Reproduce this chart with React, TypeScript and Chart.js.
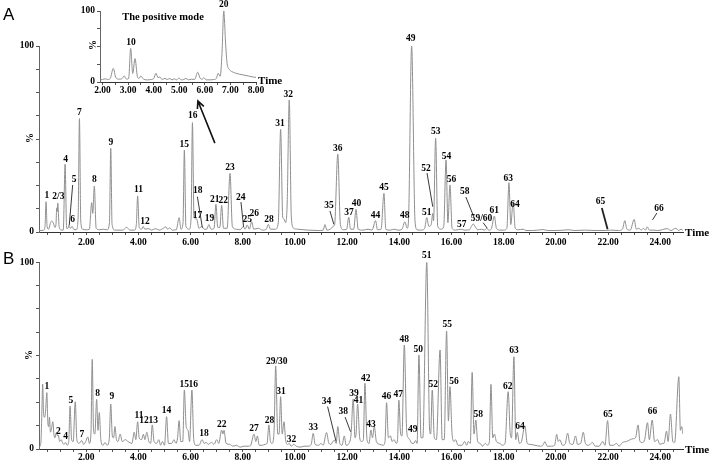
import React, { useEffect, useRef } from 'react';
import { Chart, registerables } from 'chart.js';

Chart.register(...registerables);

const SERIF = "'Liberation Serif', 'Times New Roman', serif";
const SANS = "'Liberation Sans', Arial, sans-serif";

// ---------- Panel A (total ion chromatogram) : [time (min), intensity %] ----------
const traceA: [number, number][] = [
  [0.19, 0.8], [0.36, 0.9], [0.42, 3], [0.46, 16.3], [0.5, 3], [0.56, 1.5], [0.62, 4.5], [0.68, 5.9], [0.74, 4.8],
  [0.8, 2.5], [0.84, 4], [0.87, 13], [0.89, 11], [0.91, 15.6], [0.96, 3], [1.02, 1.2], [1.12, 1], [1.19, 36.4],
  [1.25, 2], [1.3, 2], [1.34, 3.8], [1.39, 2], [1.46, 3], [1.52, 1.5], [1.62, 1.2], [1.69, 8], [1.74, 61], [1.79, 6],
  [1.86, 1.5], [2.0, 1.2], [2.12, 1.5], [2.21, 15.8], [2.25, 10], [2.31, 24.7], [2.38, 2], [2.5, 1.2], [2.65, 1.5],
  [2.8, 1.2], [2.89, 5], [2.94, 45], [2.99, 4], [3.1, 1], [3.4, 1], [3.55, 2.5], [3.68, 1], [3.85, 1], [3.92, 4],
  [3.97, 19.4], [4.03, 2.5], [4.12, 1.5], [4.18, 3], [4.25, 1.5], [4.4, 1.8], [4.5, 1], [4.65, 1.8], [4.8, 1],
  [4.95, 2], [5.04, 2.8], [5.12, 1.5], [5.2, 2.2], [5.3, 1], [5.45, 1.2], [5.56, 7.7], [5.63, 1.5], [5.71, 5],
  [5.76, 44], [5.82, 3], [5.95, 1.5], [6.02, 8], [6.07, 58.8], [6.13, 8], [6.23, 7], [6.32, 2], [6.43, 3],
  [6.52, 1.5], [6.62, 1.5], [6.7, 4], [6.78, 1.5], [6.9, 2], [6.97, 14.9], [7.04, 2.5], [7.12, 2.5], [7.19, 14.3],
  [7.26, 2], [7.4, 2], [7.51, 31.5], [7.6, 3], [7.75, 1.5], [7.9, 1.2], [8.02, 3], [8.09, 1.5], [8.17, 3.8],
  [8.25, 1.5], [8.34, 5.5], [8.42, 1.5], [8.6, 2], [8.75, 1], [8.9, 1.5], [8.98, 4.1], [9.06, 1.5], [9.25, 1.5],
  [9.36, 5], [9.45, 55.2], [9.53, 8], [9.58, 7], [9.64, 5], [9.7, 15], [9.78, 71], [9.86, 8], [9.95, 2], [10.1, 1.5],
  [10.5, 1], [10.9, 0.8], [11.08, 1], [11.15, 4], [11.22, 1], [11.35, 1.5], [11.47, 3], [11.52, 4], [11.64, 41.8],
  [11.74, 4], [11.85, 1.2], [11.98, 1.5], [12.06, 7.9], [12.13, 1.5], [12.25, 1.5], [12.34, 12.2], [12.42, 1.5],
  [12.6, 1], [12.8, 1.5], [12.95, 1], [13.09, 6.1], [13.16, 1.2], [13.3, 1.5], [13.41, 20.8], [13.48, 1.5],
  [13.65, 1], [13.8, 1.5], [13.95, 1], [14.1, 1.5], [14.21, 5.5], [14.3, 2], [14.35, 6], [14.47, 100], [14.6, 6],
  [14.68, 1.2], [14.85, 1], [14.97, 2], [15.05, 7.7], [15.13, 3], [15.22, 4], [15.28, 10], [15.31, 6], [15.39, 50.4],
  [15.47, 3], [15.6, 1.5], [15.7, 3], [15.79, 38.7], [15.86, 5], [15.94, 25.3], [16.02, 2], [16.15, 1], [16.36, 1.5],
  [16.5, 1], [16.68, 1.2], [16.76, 3], [16.83, 4.3], [16.92, 2.5], [17.0, 1.2], [17.15, 1.5], [17.27, 1], [17.34, 2],
  [17.42, 1], [17.52, 1.5], [17.64, 8.6], [17.72, 2], [17.85, 1], [18.0, 1], [18.12, 2], [18.2, 26.5], [18.27, 4],
  [18.36, 16.3], [18.44, 2], [18.55, 1.2], [18.75, 1.5], [18.85, 0.8], [19.1, 0.8], [19.3, 1], [19.5, 1.3],
  [19.7, 0.8], [20.0, 0.8], [20.2, 0.9], [20.5, 1.2], [20.7, 0.8], [21.1, 1], [21.5, 0.8], [21.9, 0.8], [22.1, 1],
  [22.4, 0.8], [22.55, 1.5], [22.64, 6.1], [22.72, 1.5], [22.85, 1], [23.0, 6.8], [23.08, 1.5], [23.18, 2],
  [23.27, 1], [23.35, 2], [23.43, 1], [23.5, 2.8], [23.58, 1], [23.75, 1], [23.9, 0.8], [24.27, 1.8], [24.4, 0.8],
  [24.6, 2], [24.7, 0.8], [24.8, 1.5], [24.87, 0.8],
];

// inset of panel A (2–8 min, positive mode)
const traceInset: [number, number][] = [
  [1.9, 3], [2.0, 3.5], [2.1, 4.5], [2.2, 3.5], [2.3, 5], [2.42, 19.3], [2.52, 6], [2.65, 4], [2.75, 4.5],
  [2.85, 8.5], [2.93, 4], [3.02, 5], [3.1, 47.4], [3.18, 12], [3.27, 33], [3.36, 8], [3.42, 5], [3.5, 8.5],
  [3.6, 4], [3.75, 3], [3.9, 3.5], [4.0, 5], [4.09, 12.2], [4.17, 6], [4.24, 7], [4.33, 3.5], [4.44, 5],
  [4.53, 3.5], [4.63, 5], [4.72, 3], [4.8, 4.5], [4.9, 3], [4.98, 5.5], [5.08, 3], [5.18, 3.5], [5.26, 5],
  [5.36, 3], [5.48, 4], [5.6, 3.5], [5.72, 13.7], [5.82, 5], [5.9, 4], [5.96, 6], [6.05, 3], [6.2, 3], [6.35, 3.5],
  [6.45, 5], [6.52, 12.2], [6.6, 8], [6.67, 40], [6.74, 100], [6.81, 55], [6.87, 26], [6.95, 18], [7.04, 15],
  [7.2, 12.5], [7.35, 11], [7.5, 10], [7.7, 8.5], [7.89, 7], [8.0, 6.5],
];

// ---------- Panel B ----------
const traceB: [number, number][] = [
  [0.19, 1], [0.26, 3], [0.3, 20], [0.33, 34.8], [0.37, 18], [0.41, 17], [0.45, 22], [0.49, 30.2], [0.53, 14],
  [0.56, 12], [0.59, 17], [0.63, 9], [0.67, 11], [0.72, 14.6], [0.76, 8], [0.8, 6], [0.86, 9], [0.9, 7],
  [0.93, 7.5], [0.98, 4], [1.04, 5], [1.1, 3], [1.15, 2.5], [1.21, 3.5], [1.27, 2], [1.33, 4], [1.38, 23],
  [1.44, 5], [1.5, 4], [1.58, 25.3], [1.64, 5], [1.72, 3], [1.83, 4.5], [1.9, 2.5], [1.98, 4], [2.06, 6.5],
  [2.12, 3], [2.18, 8], [2.23, 48], [2.28, 10], [2.33, 8], [2.4, 26.6], [2.45, 10], [2.5, 19.5], [2.56, 5],
  [2.64, 2], [2.72, 3.5], [2.8, 2], [2.88, 5], [2.94, 24.1], [3.0, 7], [3.05, 6], [3.1, 12], [3.16, 5], [3.22, 4],
  [3.3, 8], [3.38, 4], [3.5, 5], [3.6, 4], [3.75, 3], [3.84, 9], [3.9, 5], [3.97, 14.6], [4.03, 6], [4.12, 5],
  [4.19, 7.9], [4.25, 5], [4.32, 9], [4.4, 4], [4.47, 3], [4.53, 12.9], [4.6, 4], [4.7, 3], [4.78, 5], [4.85, 2],
  [4.92, 4], [5.0, 2], [5.08, 17.3], [5.15, 3], [5.28, 3], [5.36, 5], [5.44, 3], [5.5, 6], [5.56, 15.2], [5.62, 4],
  [5.7, 4], [5.76, 31.6], [5.83, 12], [5.9, 10], [5.96, 4], [6.05, 31.6], [6.12, 5], [6.2, 2], [6.32, 2],
  [6.44, 5], [6.52, 3], [6.6, 3.5], [6.68, 2.5], [6.8, 3.5], [6.9, 2.5], [7.0, 5], [7.08, 3], [7.19, 10.2],
  [7.24, 8], [7.28, 10], [7.36, 3], [7.5, 2.5], [7.62, 1.5], [7.75, 2], [7.9, 1], [8.05, 1.5], [8.2, 1.5], [8.3, 2],
  [8.43, 8], [8.5, 4], [8.56, 7], [8.63, 2], [8.75, 2], [8.85, 2.5], [8.93, 3], [9.0, 12.9], [9.06, 4], [9.12, 3],
  [9.2, 10], [9.26, 44.5], [9.34, 8], [9.39, 8], [9.45, 28], [9.51, 8], [9.58, 14.6], [9.64, 5], [9.72, 2.5],
  [9.78, 3], [9.86, 1.5], [9.95, 2.5], [10.05, 1.5], [10.2, 1], [10.35, 1.5], [10.5, 1.5], [10.62, 2.5],
  [10.7, 8.4], [10.77, 2.5], [10.9, 2], [11.0, 3], [11.08, 2], [11.21, 8.8], [11.3, 3], [11.38, 2.5], [11.45, 4],
  [11.52, 4.5], [11.58, 3], [11.64, 12], [11.72, 3], [11.8, 2], [11.89, 7], [11.96, 2], [12.07, 3], [12.15, 8],
  [12.23, 26.8], [12.3, 6], [12.34, 8], [12.4, 24.1], [12.48, 6], [12.55, 4], [12.62, 5], [12.68, 35.2],
  [12.76, 5], [12.84, 3], [12.91, 10.2], [12.97, 6], [13.04, 12], [13.12, 4], [13.25, 2.5], [13.38, 2], [13.45, 4],
  [13.51, 24.8], [13.58, 6], [13.66, 7], [13.72, 4], [13.8, 5], [13.88, 3], [13.93, 5], [13.98, 26.2], [14.05, 8],
  [14.1, 7], [14.19, 55.7], [14.28, 10], [14.34, 6], [14.4, 5], [14.48, 3], [14.55, 3], [14.62, 4.5], [14.68, 3],
  [14.75, 50.3], [14.83, 6], [14.9, 6], [15.05, 100], [15.16, 10], [15.2, 8], [15.26, 31.6], [15.34, 6],
  [15.42, 5], [15.56, 53], [15.64, 5], [15.72, 5], [15.81, 63.2], [15.88, 15], [15.94, 33.4], [16.02, 8], [16.1, 4],
  [16.15, 5], [16.25, 2], [16.4, 2], [16.5, 4], [16.58, 2], [16.64, 4], [16.72, 3], [16.79, 41], [16.86, 8],
  [16.93, 15.5], [17.0, 4], [17.1, 3], [17.18, 1.5], [17.3, 3], [17.38, 2], [17.45, 4], [17.51, 34.6], [17.58, 6],
  [17.64, 8], [17.72, 4], [17.85, 3], [17.95, 2], [18.05, 3], [18.17, 30.7], [18.25, 8], [18.3, 6], [18.39, 49.4],
  [18.46, 5], [18.52, 8.9], [18.6, 3], [18.68, 4], [18.81, 12.5], [18.9, 3], [19.0, 2.5], [19.2, 2], [19.4, 1.5],
  [19.5, 2], [19.58, 4], [19.66, 1.5], [19.8, 1.5], [19.95, 2], [20.03, 7.9], [20.09, 4], [20.15, 5], [20.25, 2],
  [20.35, 2.5], [20.45, 8.5], [20.53, 3], [20.65, 2.5], [20.75, 7], [20.83, 2.5], [20.95, 3], [21.05, 9],
  [21.13, 3], [21.25, 2], [21.4, 3.5], [21.5, 1.5], [21.65, 1.5], [21.8, 4], [21.88, 2], [21.98, 15.2], [22.06, 2],
  [22.2, 2], [22.32, 3], [22.42, 1.5], [22.55, 3.5], [22.7, 4], [22.85, 5], [22.95, 5.5], [23.05, 6], [23.15, 12.9],
  [23.22, 4], [23.32, 3.5], [23.4, 5], [23.51, 14.1], [23.58, 5], [23.69, 15.5], [23.78, 4], [23.9, 5], [23.98, 2.5],
  [24.08, 3], [24.14, 3], [24.24, 9.6], [24.3, 4], [24.39, 18.7], [24.48, 4], [24.55, 3.5], [24.71, 38.7],
  [24.77, 10], [24.82, 12], [24.87, 8],
];

// peak labels: [text, time, intensity-position]
const labelsA: [string, number, number][] = [
  ['1', 0.49, 19.5], ['2/3', 0.93, 19], ['4', 1.21, 39.2], ['5', 1.54, 28], ['6', 1.48, 6.8], ['7', 1.74, 64.1],
  ['8', 2.31, 28], ['9', 2.94, 48], ['11', 4.0, 22.6], ['12', 4.25, 5.5], ['15', 5.76, 46.8], ['16', 6.08, 62.4],
  ['17', 6.26, 9.1], ['18', 6.27, 22.2], ['19', 6.72, 7.4], ['21', 6.93, 17.7], ['22', 7.25, 16.8],
  ['23', 7.51, 34.8], ['24', 7.92, 18.7], ['25', 8.17, 6.8], ['26', 8.44, 9.7], ['28', 9.0, 6.5], ['31', 9.43, 58.1],
  ['32', 9.74, 73.7], ['35', 11.3, 14], ['36', 11.64, 45], ['37', 12.07, 10.4], ['40', 12.36, 15.4],
  ['44', 13.09, 8.6], ['45', 13.41, 23.8], ['48', 14.21, 8.8], ['49', 14.44, 103.8], ['51', 15.05, 10.4],
  ['52', 15.02, 34.2], ['53', 15.39, 53.9], ['54', 15.81, 40.5], ['56', 16.0, 28], ['57', 16.39, 4.1],
  ['58', 16.51, 21.7], ['59/60', 17.15, 7.4], ['61', 17.64, 11.8], ['63', 18.17, 28.9], ['64', 18.43, 14.9],
  ['65', 21.71, 16.3], ['66', 23.95, 12.7],
];
// leader lines: [t1, v1, t2, v2]
const leadersA: [number, number, number, number][] = [
  [1.48, 25.3, 1.35, 3.8], [6.26, 19, 6.45, 2.3], [7.93, 16.1, 8.03, 2.8], [11.34, 11.3, 11.49, 4.1],
  [15.06, 31.7, 15.28, 13.6], [16.55, 18.8, 16.9, 6.5], [17.21, 5, 17.37, 2], [23.87, 10.2, 23.7, 6.5],
];
const leader65A: [number, number, number, number] = [21.76, 12.9, 21.98, 1.5];
const arrowA: [number, number, number, number] = [6.93, 47.8, 6.28, 70.4];

const labelsInset: [string, number, number][] = [['10', 3.11, 54.9], ['20', 6.74, 108.5]];

const labelsB: [string, number, number][] = [
  ['1', 0.49, 33.4], ['2', 0.93, 9.3], ['4', 1.21, 6.6], ['5', 1.41, 26.2], ['7', 1.83, 8], ['8', 2.44, 29.5],
  ['9', 2.98, 28], ['11', 4.02, 17.8], ['12', 4.21, 15.5], ['13', 4.57, 15.5], ['14', 5.08, 20.5],
  ['15', 5.76, 34.7], ['16', 6.1, 34.7], ['18', 6.51, 8.4], ['22', 7.19, 12.9], ['27', 8.43, 10.7],
  ['28', 9.02, 15.5], ['29/30', 9.3, 47.1], ['31', 9.46, 30.7], ['32', 9.87, 5.2], ['33', 10.7, 11.4],
  ['34', 11.21, 25.3], ['38', 11.85, 20], ['39', 12.26, 29.8], ['41', 12.43, 25.7], ['42', 12.71, 37.9],
  ['43', 12.91, 13.2], ['46', 13.51, 28], ['47', 13.96, 28.9], ['48', 14.19, 58.8], ['49', 14.51, 10.2],
  ['50', 14.72, 53.4], ['51', 15.05, 103.4], ['52', 15.3, 34.3], ['55', 15.84, 66.4], ['56', 16.09, 36],
  ['58', 17.02, 18.2], ['62', 18.15, 33.4], ['63', 18.39, 53], ['64', 18.62, 11.9], ['65', 22.0, 18.2],
  ['66', 23.7, 20],
];
const leadersB: [number, number, number, number][] = [
  [11.25, 22.7, 11.57, 4.3], [11.92, 17.1, 12.13, 9.3],
];

const xTicksMain: number[] = [];
for (let i = 1; i <= 49; i++) xTicksMain.push(i * 0.5);
const yTicksMain = [0, 12.5, 25, 37.5, 50, 62.5, 75, 87.5, 100];
const xTicksInset = [2, 2.5, 3, 3.5, 4, 4.5, 5, 5.5, 6, 6.5, 7, 7.5, 8];
const yTicksInset = [0, 25, 50, 75, 100];

const TRACE = '#8f8f8f';
const AXIS = '#555555';

type Extra = {
  labels: [string, number, number][];
  leaders: [number, number, number, number][];
  thick?: [number, number, number, number][];
  arrow?: [number, number, number, number];
  letter?: string;
  letterPos?: [number, number];
  pctPos: [number, number];
  labelFont: string;
  timeDy: number;
  title?: [string, number, number];
};

function makePlugin(extra: Extra) {
  return {
    id: 'annotations',
    afterDraw(chart: any) {
      const { ctx, chartArea } = chart;
      const xs = chart.scales.x;
      const ys = chart.scales.y;
      const px = (t: number) => xs.getPixelForValue(t);
      const py = (v: number) => ys.getPixelForValue(v);
      ctx.save();
      ctx.fillStyle = '#000';
      ctx.textAlign = 'center';
      ctx.textBaseline = 'middle';
      ctx.font = extra.labelFont;
      for (const [s, t, v] of extra.labels) ctx.fillText(s, px(t), py(v));
      ctx.strokeStyle = '#222';
      ctx.lineWidth = 0.9;
      for (const [t1, v1, t2, v2] of extra.leaders) {
        ctx.beginPath();
        ctx.moveTo(px(t1), py(v1));
        ctx.lineTo(px(t2), py(v2));
        ctx.stroke();
      }
      if (extra.thick) {
        ctx.lineWidth = 1.8;
        for (const [t1, v1, t2, v2] of extra.thick) {
          ctx.beginPath();
          ctx.moveTo(px(t1), py(v1));
          ctx.lineTo(px(t2), py(v2));
          ctx.stroke();
        }
      }
      if (extra.arrow) {
        const [t1, v1, t2, v2] = extra.arrow;
        const x1 = px(t1), y1 = py(v1), x2 = px(t2), y2 = py(v2);
        ctx.lineWidth = 1.6;
        ctx.strokeStyle = '#111';
        ctx.beginPath();
        ctx.moveTo(x1, y1);
        ctx.lineTo(x2, y2);
        const ang = Math.atan2(y2 - y1, x2 - x1);
        const L = 8;
        ctx.moveTo(x2 - L * Math.cos(ang - 0.45), y2 - L * Math.sin(ang - 0.45));
        ctx.lineTo(x2, y2);
        ctx.lineTo(x2 - L * Math.cos(ang + 0.45), y2 - L * Math.sin(ang + 0.45));
        ctx.stroke();
      }
      // "%" axis title
      ctx.save();
      ctx.translate(extra.pctPos[0], extra.pctPos[1]);
      ctx.rotate(-Math.PI / 2);
      ctx.font = `bold 10px ${SERIF}`;
      ctx.fillText('%', 0, 0);
      ctx.restore();
      // "Time"
      ctx.textAlign = 'left';
      ctx.font = `bold 11px ${SERIF}`;
      ctx.fillText('Time', chartArea.right + 2, chartArea.bottom + extra.timeDy);
      if (extra.title) {
        ctx.textAlign = 'center';
        ctx.font = `bold 10.5px ${SERIF}`;
        ctx.fillText(extra.title[0], extra.title[1], extra.title[2]);
      }
      if (extra.letter && extra.letterPos) {
        ctx.textAlign = 'left';
        ctx.textBaseline = 'alphabetic';
        ctx.font = `17px ${SANS}`;
        ctx.fillText(extra.letter, extra.letterPos[0], extra.letterPos[1]);
      }
      ctx.restore();
    },
  };
}

function makeConfig(
  trace: [number, number][],
  xMin: number,
  xMax: number,
  xTicks: number[],
  yTicks: number[],
  labelEvery: number,
  padding: { top: number; right: number; left: number; bottom: number },
  yWidth: number,
  xHeight: number,
  tickPad: number,
  extra: Extra,
) {
  const tickFont = { family: SERIF, size: 9.5, weight: 'bold' as const };
  return {
    type: 'line' as const,
    data: {
      datasets: [
        {
          data: trace.map(([t, v]) => ({ x: t, y: v })),
          borderColor: TRACE,
          borderWidth: 1,
          pointRadius: 0,
          fill: false,
          cubicInterpolationMode: 'monotone' as const,
        },
      ],
    },
    options: {
      responsive: false,
      animation: false as const,
      events: [],
      layout: { padding },
      plugins: { legend: { display: false }, tooltip: { enabled: false } },
      scales: {
        x: {
          type: 'linear' as const,
          min: xMin,
          max: xMax,
          afterFit: (s: any) => { s.height = xHeight; },
          afterBuildTicks: (s: any) => { s.ticks = xTicks.map((v) => ({ value: v })); },
          ticks: {
            autoSkip: false,
            maxRotation: 0,
            padding: tickPad,
            color: '#000',
            font: tickFont,
            callback: (v: any) => {
              const n = Number(v);
              return Math.abs(n / labelEvery - Math.round(n / labelEvery)) < 1e-6 ? n.toFixed(2) : '';
            },
          },
          grid: { drawOnChartArea: false, tickLength: 3, color: AXIS, tickColor: AXIS },
          border: { display: true, color: '#333', width: 1 },
        },
        y: {
          type: 'linear' as const,
          min: 0,
          max: 100,
          afterFit: (s: any) => { s.width = yWidth; },
          afterBuildTicks: (s: any) => { s.ticks = yTicks.map((v) => ({ value: v })); },
          ticks: {
            autoSkip: false,
            padding: 2,
            color: '#000',
            font: tickFont,
            callback: (v: any) => (Number(v) === 0 || Number(v) === 100 ? String(v) : ''),
          },
          grid: { drawOnChartArea: false, tickLength: 3, color: AXIS, tickColor: AXIS },
          border: { display: true, color: '#666', width: 1 },
        },
      },
    },
    plugins: [makePlugin(extra)],
  };
}

export default function App() {
  const refA = useRef<HTMLCanvasElement>(null);
  const refB = useRef<HTMLCanvasElement>(null);
  const refI = useRef<HTMLCanvasElement>(null);

  useEffect(() => {
    const labelFont = `bold 9.5px ${SERIF}`;
    const cA = new Chart(
      refA.current!,
      makeConfig(traceA, 0.19, 24.87, xTicksMain, yTicksMain, 2, { top: 46, right: 26, left: 0, bottom: 0 }, 39, 18, 2, {
        labels: labelsA,
        leaders: leadersA,
        thick: [leader65A],
        arrow: arrowA,
        letter: 'A',
        letterPos: [3, 20],
        pctPos: [30, 138],
        labelFont,
        timeDy: 1,
      }) as any,
    );
    const cB = new Chart(
      refB.current!,
      makeConfig(traceB, 0.19, 24.87, xTicksMain, yTicksMain, 2, { top: 12.3, right: 26, left: 0, bottom: 0 }, 39, 13, 0, {
        labels: labelsB,
        leaders: leadersB,
        letter: 'B',
        letterPos: [3, 14],
        pctPos: [29, 105],
        labelFont,
        timeDy: 1,
      }) as any,
    );
    const cI = new Chart(
      refI.current!,
      makeConfig(traceInset, 1.9, 8.0, xTicksInset, yTicksInset, 1, { top: 11, right: 34, left: 0, bottom: 0 }, 40, 13, 0, {
        labels: labelsInset,
        leaders: [],
        pctPos: [33, 45],
        labelFont,
        timeDy: -1,
        title: ['The positive mode', 103, 17],
      }) as any,
    );
    return () => {
      cA.destroy();
      cB.destroy();
      cI.destroy();
    };
  }, []);

  return (
    <div style={{ position: 'fixed', left: 0, top: 0, width: 709, height: 462, background: '#fff', overflow: 'hidden' }}>
      <canvas ref={refA} width={709} height={250} style={{ position: 'absolute', left: 0, top: 0, width: 709, height: 250 }} />
      <canvas ref={refB} width={709} height={212} style={{ position: 'absolute', left: 0, top: 250, width: 709, height: 212 }} />
      <canvas ref={refI} width={230} height={95} style={{ position: 'absolute', left: 60, top: 0, width: 230, height: 95 }} />
    </div>
  );
}
